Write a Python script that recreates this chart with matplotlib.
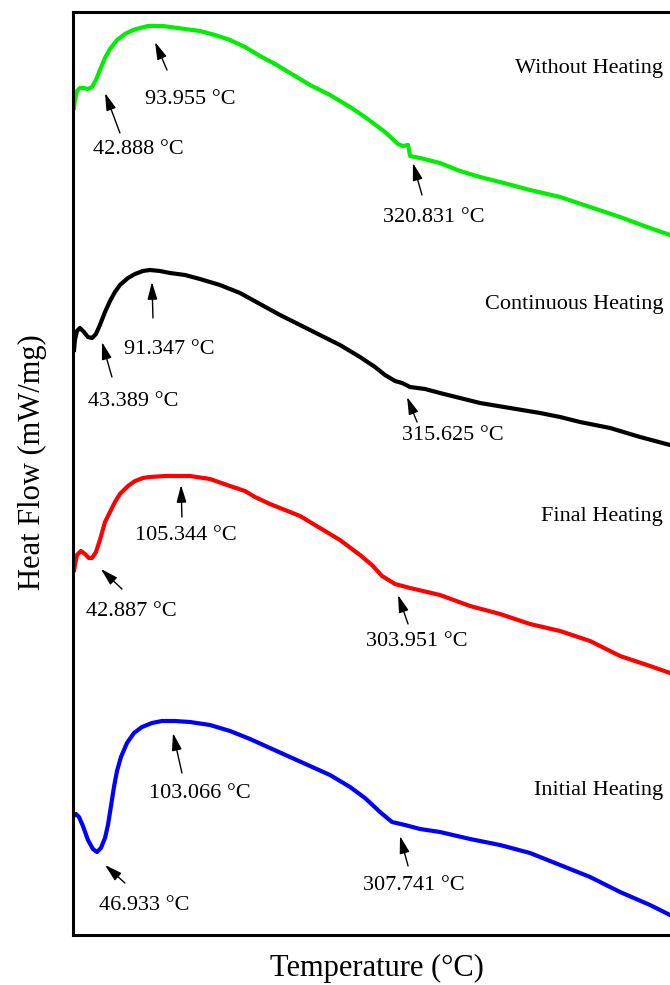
import matplotlib
matplotlib.use("Agg")
import matplotlib.pyplot as plt

plt.rcParams['font.family'] = ['Liberation Serif', 'DejaVu Serif']

# ---- DSC curves (temperature in °C, heat flow in mW/mg, stacked offsets) ----
t_without = [17.2, 18.1, 19.9, 22.5, 26.1, 29.6, 33.2, 36.7, 40.2, 44.7, 49.1, 55.3, 62.3, 69.4,
             75.6, 82.7, 88.9, 95.9, 102.1, 115.4, 128.6, 141.9, 155.2, 168.4, 181.7, 195.0,
             208.2, 225.9, 243.6, 261.3, 274.5, 292.2, 303.7, 308.1, 312.6, 314.4, 323.2,
             340.8, 358.5, 376.2, 393.9, 420.4, 447.0, 473.5, 500.0, 523.9, 544.2, 553.0]
hf_without = [8.25, 8.35, 8.44, 8.47, 8.47, 8.46, 8.48, 8.55, 8.65, 8.77, 8.86, 8.95, 9.01, 9.05,
              9.07, 9.09, 9.09, 9.09, 9.08, 9.06, 9.04, 9.00, 8.95, 8.88, 8.79, 8.71,
              8.62, 8.50, 8.40, 8.28, 8.18, 8.03, 7.91, 7.89, 7.90, 7.79, 7.77,
              7.72, 7.64, 7.58, 7.53, 7.45, 7.38, 7.28, 7.18, 7.08, 7.00, 6.97]

t_continuous = [17.2, 18.1, 19.9, 22.5, 26.1, 29.6, 33.2, 36.7, 40.2, 44.7, 49.1, 53.5, 57.9,
                65.0, 71.2, 78.2, 84.4, 93.3, 102.1, 115.4, 128.6, 146.3, 164.0, 181.7, 199.4,
                217.1, 234.7, 252.4, 270.1, 283.4, 292.2, 301.1, 307.3, 314.4, 327.6, 340.8,
                358.5, 376.2, 402.7, 429.3, 447.0, 464.6, 491.2, 517.7, 544.2, 553.0]
hf_continuous = [5.83, 5.95, 6.04, 6.07, 6.03, 5.98, 5.97, 6.01, 6.10, 6.23, 6.34, 6.43, 6.50,
                 6.57, 6.61, 6.64, 6.65, 6.64, 6.62, 6.60, 6.56, 6.50, 6.42, 6.31, 6.20,
                 6.10, 6.00, 5.90, 5.78, 5.68, 5.60, 5.54, 5.52, 5.48, 5.46, 5.42,
                 5.37, 5.32, 5.27, 5.22, 5.18, 5.13, 5.07, 4.98, 4.90, 4.87]

t_final = [17.2, 18.1, 19.9, 23.4, 27.0, 30.5, 33.2, 36.7, 40.2, 44.7, 49.1, 53.5, 57.9, 65.0,
           71.2, 78.2, 84.4, 97.7, 111.0, 119.8, 137.5, 155.2, 168.4, 177.3, 190.5, 203.8,
           217.1, 234.7, 252.4, 270.1, 280.7, 289.6, 301.1, 314.4, 340.8, 367.4, 393.9,
           420.4, 447.0, 473.5, 500.0, 526.5, 544.2, 553.0]
hf_final = [3.63, 3.70, 3.80, 3.84, 3.81, 3.77, 3.77, 3.83, 3.95, 4.13, 4.23, 4.33, 4.41, 4.49,
            4.54, 4.57, 4.58, 4.59, 4.59, 4.59, 4.56, 4.49, 4.44, 4.38, 4.31, 4.25,
            4.19, 4.07, 3.95, 3.80, 3.70, 3.59, 3.51, 3.47, 3.40, 3.29, 3.21,
            3.11, 3.04, 2.94, 2.79, 2.69, 2.62, 2.58]

t_initial = [17.2, 19.0, 21.7, 25.2, 29.6, 34.0, 37.6, 41.1, 44.7, 47.3, 50.0, 52.6, 55.3, 58.8,
             64.1, 70.3, 77.4, 86.2, 95.0, 106.5, 119.8, 137.5, 155.2, 172.9, 190.5, 208.2,
             225.9, 243.6, 261.3, 274.5, 287.8, 298.4, 309.9, 323.2, 340.8, 367.4, 393.9,
             420.4, 447.0, 473.5, 500.0, 526.5, 544.2, 553.0]
hf_initial = [1.19, 1.21, 1.18, 1.09, 0.95, 0.86, 0.83, 0.87, 0.97, 1.10, 1.29, 1.48, 1.64, 1.78,
              1.92, 2.02, 2.08, 2.12, 2.14, 2.14, 2.13, 2.10, 2.04, 1.96, 1.87, 1.78,
              1.69, 1.60, 1.48, 1.37, 1.23, 1.13, 1.10, 1.06, 1.03, 0.96, 0.90,
              0.82, 0.70, 0.58, 0.43, 0.30, 0.20, 0.15]

series_names = ["Without Heating", "Continuous Heating", "Final Heating", "Initial Heating"]
series_colors = ["#00ee00", "black", "#ff0000", "#0000ff"]
series_label_y = [8.67, 6.30, 4.18, 1.45]

# ---- peak annotations: (text, arrow tip (T, HF), arrow tail (T, HF), text centre (T, HF)) ----
peak_labels = ["42.888 °C", "93.955 °C", "320.831 °C",
               "43.389 °C", "91.347 °C", "315.625 °C",
               "42.887 °C", "105.344 °C", "303.951 °C",
               "46.933 °C", "103.066 °C", "307.741 °C"]
arrow_tips = [(44.7, 8.42), (88.9, 8.93), (316.9, 7.72),
              (42.0, 5.93), (86.2, 6.53), (311.7, 5.38),
              (41.1, 3.66), (111.9, 4.50), (303.7, 3.40),
              (44.7, 0.70), (104.8, 2.02), (305.5, 0.99)]
arrow_tails = [(57.9, 8.02), (99.5, 8.65), (324.9, 7.40),
               (50.8, 5.58), (87.1, 6.17), (320.5, 5.13),
               (59.7, 3.46), (112.7, 4.18), (312.6, 3.11),
               (62.3, 0.52), (112.7, 1.62), (312.6, 0.69)]
text_centres = [(73.9, 7.85), (119.8, 8.35), (335.5, 7.17),
                (69.4, 5.33), (101.2, 5.85), (352.3, 5.00),
                (67.7, 3.23), (116.3, 4.00), (320.5, 2.94),
                (79.2, 0.30), (128.6, 1.42), (317.8, 0.50)]

W, H = 670, 985
fig = plt.figure(figsize=(W / 100, H / 100), dpi=100)
ax = fig.add_axes([73 / W, 50 / H, 607 / W, 923 / H])

curves = [(t_without, hf_without), (t_continuous, hf_continuous),
          (t_final, hf_final), (t_initial, hf_initial)]
for (t, hf), c in zip(curves, series_colors):
    ax.plot(t, hf, color=c, lw=3.0, solid_joinstyle='round', solid_capstyle='butt')

for name, y in zip(series_names, series_label_y):
    ax.text(538, y, name, ha='right', va='center', fontsize=16)

for lab, tip, tail, tc in zip(peak_labels, arrow_tips, arrow_tails, text_centres):
    ax.annotate("", xy=tip, xytext=tail,
                arrowprops=dict(arrowstyle="-|>,head_length=0.7,head_width=0.2",
                                mutation_scale=15, color="black", lw=1.0,
                                shrinkA=0, shrinkB=0))
    ax.text(tc[0], tc[1], lab, ha='center', va='center', fontsize=16)

ax.set_xlim(16.4, 553.0)
ax.set_ylim(0, 9.23)
ax.set_xticks([])
ax.set_yticks([])
for side in ["left", "top", "bottom", "right"]:
    ax.spines[side].set_linewidth(2.2)

fig.text(270 / W, 1 - 968 / H, "Temperature (°C)", ha='left', va='center', fontsize=22)
fig.text(32 / W, 1 - 462 / H, "Heat Flow (mW/mg)", ha='center', va='center',
         rotation=90, fontsize=22)

fig.savefig("out.png", dpi=100)
